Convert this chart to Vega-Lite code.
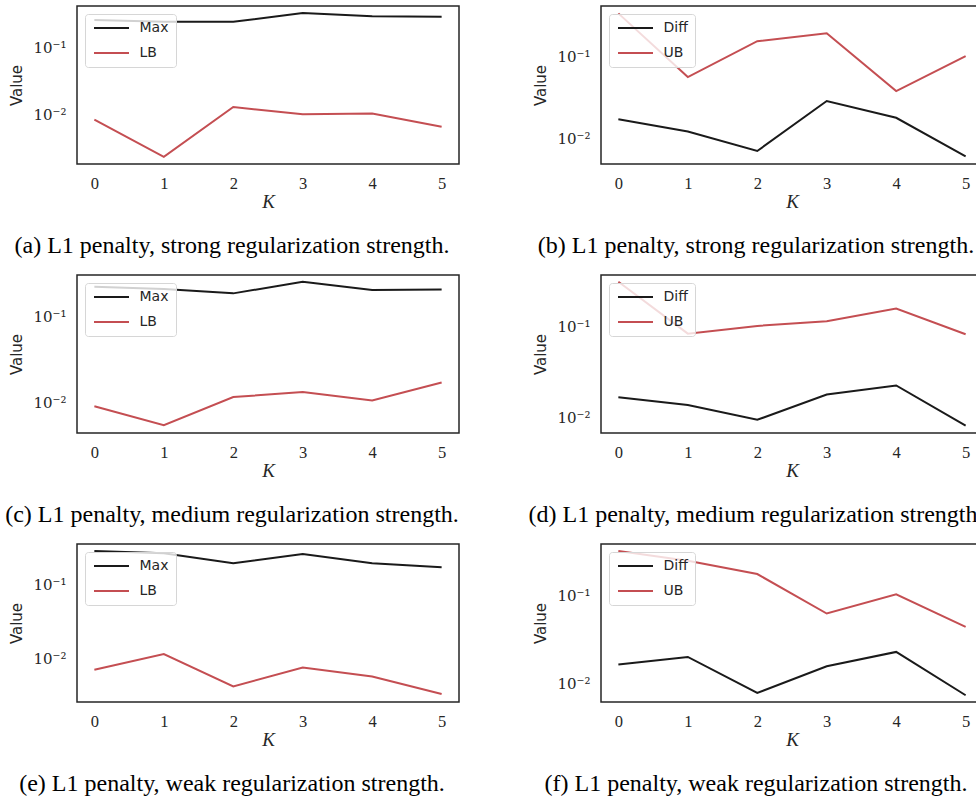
{
  "$schema": "https://vega.github.io/schema/vega-lite/v6.json",
  "background": "white",
  "padding": {"left": 4, "top": 5, "right": 0, "bottom": 0},
  "data": {"values": [
    {"panel": "a", "K": 0, "series": "Max", "value": 0.26},
    {"panel": "a", "K": 1, "series": "Max", "value": 0.245},
    {"panel": "a", "K": 2, "series": "Max", "value": 0.245},
    {"panel": "a", "K": 3, "series": "Max", "value": 0.33},
    {"panel": "a", "K": 4, "series": "Max", "value": 0.295},
    {"panel": "a", "K": 5, "series": "Max", "value": 0.29},
    {"panel": "a", "K": 0, "series": "LB", "value": 0.0083},
    {"panel": "a", "K": 1, "series": "LB", "value": 0.0023},
    {"panel": "a", "K": 2, "series": "LB", "value": 0.0129},
    {"panel": "a", "K": 3, "series": "LB", "value": 0.0100},
    {"panel": "a", "K": 4, "series": "LB", "value": 0.0103},
    {"panel": "a", "K": 5, "series": "LB", "value": 0.0065},
    {"panel": "b", "K": 0, "series": "Diff", "value": 0.0172},
    {"panel": "b", "K": 1, "series": "Diff", "value": 0.0122},
    {"panel": "b", "K": 2, "series": "Diff", "value": 0.0071},
    {"panel": "b", "K": 3, "series": "Diff", "value": 0.0286},
    {"panel": "b", "K": 4, "series": "Diff", "value": 0.0179},
    {"panel": "b", "K": 5, "series": "Diff", "value": 0.00612},
    {"panel": "b", "K": 0, "series": "UB", "value": 0.328},
    {"panel": "b", "K": 1, "series": "UB", "value": 0.0557},
    {"panel": "b", "K": 2, "series": "UB", "value": 0.151},
    {"panel": "b", "K": 3, "series": "UB", "value": 0.188},
    {"panel": "b", "K": 4, "series": "UB", "value": 0.0377},
    {"panel": "b", "K": 5, "series": "UB", "value": 0.100},
    {"panel": "c", "K": 0, "series": "Max", "value": 0.223},
    {"panel": "c", "K": 1, "series": "Max", "value": 0.21},
    {"panel": "c", "K": 2, "series": "Max", "value": 0.187},
    {"panel": "c", "K": 3, "series": "Max", "value": 0.255},
    {"panel": "c", "K": 4, "series": "Max", "value": 0.204},
    {"panel": "c", "K": 5, "series": "Max", "value": 0.208},
    {"panel": "c", "K": 0, "series": "LB", "value": 0.00916},
    {"panel": "c", "K": 1, "series": "LB", "value": 0.0055},
    {"panel": "c", "K": 2, "series": "LB", "value": 0.0117},
    {"panel": "c", "K": 3, "series": "LB", "value": 0.0134},
    {"panel": "c", "K": 4, "series": "LB", "value": 0.0107},
    {"panel": "c", "K": 5, "series": "LB", "value": 0.0173},
    {"panel": "d", "K": 0, "series": "Diff", "value": 0.0167},
    {"panel": "d", "K": 1, "series": "Diff", "value": 0.0137},
    {"panel": "d", "K": 2, "series": "Diff", "value": 0.0094},
    {"panel": "d", "K": 3, "series": "Diff", "value": 0.0179},
    {"panel": "d", "K": 4, "series": "Diff", "value": 0.0225},
    {"panel": "d", "K": 5, "series": "Diff", "value": 0.0081},
    {"panel": "d", "K": 0, "series": "UB", "value": 0.316},
    {"panel": "d", "K": 1, "series": "UB", "value": 0.0843},
    {"panel": "d", "K": 2, "series": "UB", "value": 0.1026},
    {"panel": "d", "K": 3, "series": "UB", "value": 0.1156},
    {"panel": "d", "K": 4, "series": "UB", "value": 0.16},
    {"panel": "d", "K": 5, "series": "UB", "value": 0.083},
    {"panel": "e", "K": 0, "series": "Max", "value": 0.288},
    {"panel": "e", "K": 1, "series": "Max", "value": 0.268},
    {"panel": "e", "K": 2, "series": "Max", "value": 0.196},
    {"panel": "e", "K": 3, "series": "Max", "value": 0.262},
    {"panel": "e", "K": 4, "series": "Max", "value": 0.196},
    {"panel": "e", "K": 5, "series": "Max", "value": 0.173},
    {"panel": "e", "K": 0, "series": "LB", "value": 0.0071},
    {"panel": "e", "K": 1, "series": "LB", "value": 0.0116},
    {"panel": "e", "K": 2, "series": "LB", "value": 0.00423},
    {"panel": "e", "K": 3, "series": "LB", "value": 0.00763},
    {"panel": "e", "K": 4, "series": "LB", "value": 0.00577},
    {"panel": "e", "K": 5, "series": "LB", "value": 0.00333},
    {"panel": "f", "K": 0, "series": "Diff", "value": 0.0164},
    {"panel": "f", "K": 1, "series": "Diff", "value": 0.0200},
    {"panel": "f", "K": 2, "series": "Diff", "value": 0.00783},
    {"panel": "f", "K": 3, "series": "Diff", "value": 0.0157},
    {"panel": "f", "K": 4, "series": "Diff", "value": 0.0228},
    {"panel": "f", "K": 5, "series": "Diff", "value": 0.00738},
    {"panel": "f", "K": 0, "series": "UB", "value": 0.315},
    {"panel": "f", "K": 1, "series": "UB", "value": 0.245},
    {"panel": "f", "K": 2, "series": "UB", "value": 0.173},
    {"panel": "f", "K": 3, "series": "UB", "value": 0.062},
    {"panel": "f", "K": 4, "series": "UB", "value": 0.102},
    {"panel": "f", "K": 5, "series": "UB", "value": 0.0437}
  ]},
  "columns": 2,
  "bounds": "flush",
  "spacing": {"column": 142, "row": 111},
  "resolve": {"scale": {"x": "independent", "y": "independent", "color": "independent"}, "legend": {"color": "independent"}, "axis": {"x": "independent", "y": "independent"}},
  "concat": [
    {
      "width": 382, "height": 158,
      "title": {"text": "(a) L1 penalty, strong regularization strength."},
      "transform": [{"filter": "datum.panel == 'a'"}],
      "mark": {"type": "line", "strokeWidth": 2, "clip": true},
      "encoding": {
        "x": {"field": "K", "type": "quantitative", "scale": {"domain": [-0.25, 5.25], "nice": false, "zero": false}, "axis": {"values": [0, 1, 2, 3, 4, 5], "title": "K"}},
        "y": {"field": "value", "type": "quantitative", "scale": {"type": "log", "domain": [0.0018, 0.4217], "nice": false}, "axis": {"values": [0.01, 0.1], "labelExpr": "datum.value > 0.05 ? '10⁻¹' : '10⁻²'", "title": "Value"}},
        "color": {"field": "series", "type": "nominal", "sort": null, "scale": {"domain": ["Max", "LB"], "range": ["#1a1a1a", "#c44e52"]}, "legend": {"orient": "none", "legendX": 8, "legendY": 8, "title": null}}
      }
    },
    {
      "width": 382, "height": 158,
      "title": {"text": "(b) L1 penalty, strong regularization strength."},
      "transform": [{"filter": "datum.panel == 'b'"}],
      "mark": {"type": "line", "strokeWidth": 2, "clip": true},
      "encoding": {
        "x": {"field": "K", "type": "quantitative", "scale": {"domain": [-0.25, 5.25], "nice": false, "zero": false}, "axis": {"values": [0, 1, 2, 3, 4, 5], "title": "K"}},
        "y": {"field": "value", "type": "quantitative", "scale": {"type": "log", "domain": [0.004943, 0.4027], "nice": false}, "axis": {"values": [0.01, 0.1], "labelExpr": "datum.value > 0.05 ? '10⁻¹' : '10⁻²'", "title": "Value"}},
        "color": {"field": "series", "type": "nominal", "sort": null, "scale": {"domain": ["Diff", "UB"], "range": ["#1a1a1a", "#c44e52"]}, "legend": {"orient": "none", "legendX": 8, "legendY": 8, "title": null}}
      }
    },
    {
      "width": 382, "height": 158,
      "title": {"text": "(c) L1 penalty, medium regularization strength."},
      "transform": [{"filter": "datum.panel == 'c'"}],
      "mark": {"type": "line", "strokeWidth": 2, "clip": true},
      "encoding": {
        "x": {"field": "K", "type": "quantitative", "scale": {"domain": [-0.25, 5.25], "nice": false, "zero": false}, "axis": {"values": [0, 1, 2, 3, 4, 5], "title": "K"}},
        "y": {"field": "value", "type": "quantitative", "scale": {"type": "log", "domain": [0.004477, 0.3055], "nice": false}, "axis": {"values": [0.01, 0.1], "labelExpr": "datum.value > 0.05 ? '10⁻¹' : '10⁻²'", "title": "Value"}},
        "color": {"field": "series", "type": "nominal", "sort": null, "scale": {"domain": ["Max", "LB"], "range": ["#1a1a1a", "#c44e52"]}, "legend": {"orient": "none", "legendX": 8, "legendY": 8, "title": null}}
      }
    },
    {
      "width": 382, "height": 158,
      "title": {"text": "(d) L1 penalty, medium regularization strength."},
      "transform": [{"filter": "datum.panel == 'd'"}],
      "mark": {"type": "line", "strokeWidth": 2, "clip": true},
      "encoding": {
        "x": {"field": "K", "type": "quantitative", "scale": {"domain": [-0.25, 5.25], "nice": false, "zero": false}, "axis": {"values": [0, 1, 2, 3, 4, 5], "title": "K"}},
        "y": {"field": "value", "type": "quantitative", "scale": {"type": "log", "domain": [0.006714, 0.375], "nice": false}, "axis": {"values": [0.01, 0.1], "labelExpr": "datum.value > 0.05 ? '10⁻¹' : '10⁻²'", "title": "Value"}},
        "color": {"field": "series", "type": "nominal", "sort": null, "scale": {"domain": ["Diff", "UB"], "range": ["#1a1a1a", "#c44e52"]}, "legend": {"orient": "none", "legendX": 8, "legendY": 8, "title": null}}
      }
    },
    {
      "width": 382, "height": 158,
      "title": {"text": "(e) L1 penalty, weak regularization strength."},
      "transform": [{"filter": "datum.panel == 'e'"}],
      "mark": {"type": "line", "strokeWidth": 2, "clip": true},
      "encoding": {
        "x": {"field": "K", "type": "quantitative", "scale": {"domain": [-0.25, 5.25], "nice": false, "zero": false}, "axis": {"values": [0, 1, 2, 3, 4, 5], "title": "K"}},
        "y": {"field": "value", "type": "quantitative", "scale": {"type": "log", "domain": [0.0026, 0.358], "nice": false}, "axis": {"values": [0.01, 0.1], "labelExpr": "datum.value > 0.05 ? '10⁻¹' : '10⁻²'", "title": "Value"}},
        "color": {"field": "series", "type": "nominal", "sort": null, "scale": {"domain": ["Max", "LB"], "range": ["#1a1a1a", "#c44e52"]}, "legend": {"orient": "none", "legendX": 8, "legendY": 8, "title": null}}
      }
    },
    {
      "width": 382, "height": 158,
      "title": {"text": "(f) L1 penalty, weak regularization strength."},
      "transform": [{"filter": "datum.panel == 'f'"}],
      "mark": {"type": "line", "strokeWidth": 2, "clip": true},
      "encoding": {
        "x": {"field": "K", "type": "quantitative", "scale": {"domain": [-0.25, 5.25], "nice": false, "zero": false}, "axis": {"values": [0, 1, 2, 3, 4, 5], "title": "K"}},
        "y": {"field": "value", "type": "quantitative", "scale": {"type": "log", "domain": [0.006194, 0.3784], "nice": false}, "axis": {"values": [0.01, 0.1], "labelExpr": "datum.value > 0.05 ? '10⁻¹' : '10⁻²'", "title": "Value"}},
        "color": {"field": "series", "type": "nominal", "sort": null, "scale": {"domain": ["Diff", "UB"], "range": ["#1a1a1a", "#c44e52"]}, "legend": {"orient": "none", "legendX": 8, "legendY": 8, "title": null}}
      }
    }
  ],
  "config": {
    "view": {"stroke": "#262626", "strokeWidth": 1.5},
    "axis": {"grid": false, "ticks": false, "domain": false, "labelFont": "Liberation Serif", "labelFontSize": 16.5, "labelColor": "#262626", "labelPadding": 11, "titleColor": "#262626", "titleFontWeight": "normal"},
    "axisX": {"titleFont": "Liberation Serif", "titleFontStyle": "italic", "titleFontSize": 19, "titlePadding": 1},
    "axisY": {"labelFont": "DejaVu Serif", "labelFontSize": 15, "titleFont": "DejaVu Sans", "titleFontSize": 15, "titlePadding": 8},
    "legend": {"symbolType": "M-3.5,0H3.5", "symbolSize": 100, "symbolOffset": 12.5, "symbolStrokeWidth": 2, "labelFont": "DejaVu Sans", "labelFontSize": 14, "labelColor": "#262626", "padding": 7, "rowPadding": 11, "labelOffset": 21, "fillColor": "rgba(255,255,255,0.8)", "strokeColor": "#d6d6d6", "cornerRadius": 3},
    "title": {"orient": "bottom", "anchor": "middle", "frame": "group", "dx": -36, "offset": 22, "font": "Liberation Serif", "fontSize": 24, "fontWeight": "normal", "color": "#000000"}
  }
}
